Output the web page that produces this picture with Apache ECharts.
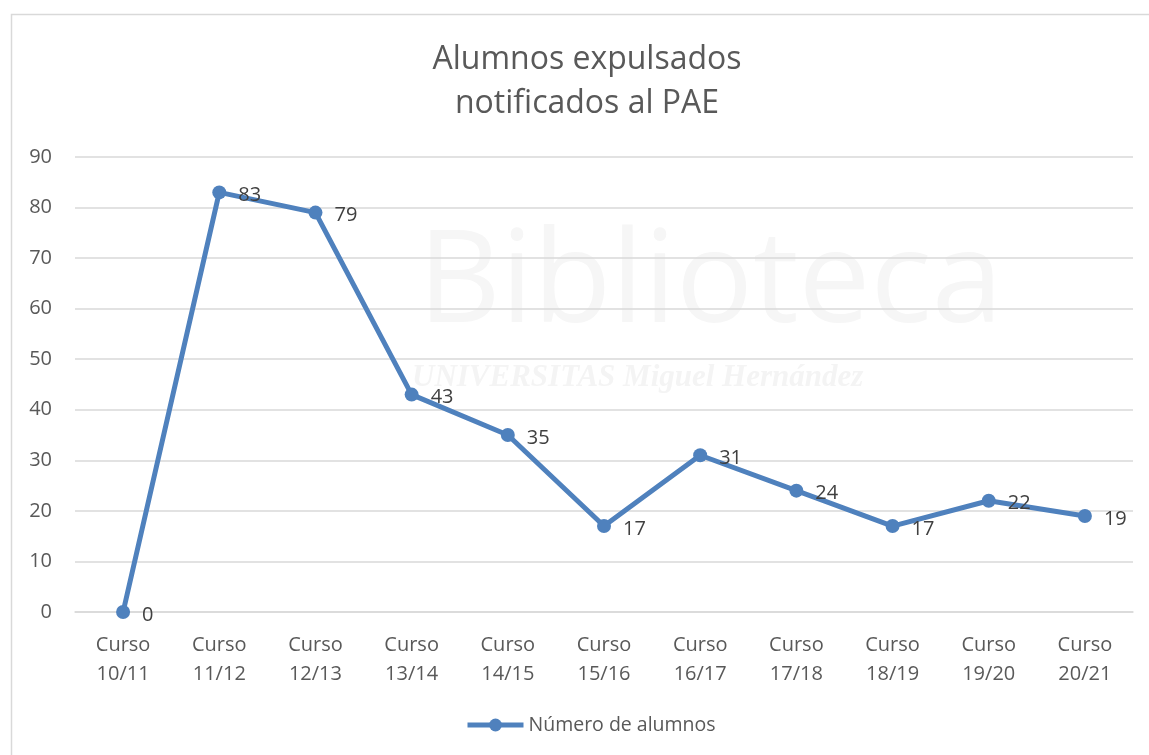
<!DOCTYPE html>
<html><head><meta charset="utf-8">
<script src="https://cdn.jsdelivr.net/npm/echarts@6/dist/echarts.min.js"></script>
<style>html,body{margin:0;padding:0;background:#fff}#c{width:1149px;height:755px}</style>
</head><body><div id="c"></div>
<script>
const categories = ['Curso\n10/11','Curso\n11/12','Curso\n12/13','Curso\n13/14','Curso\n14/15','Curso\n15/16','Curso\n16/17','Curso\n17/18','Curso\n18/19','Curso\n19/20','Curso\n20/21'];
const alumnos = [0, 83, 79, 43, 35, 17, 31, 24, 17, 22, 19];
const seriesName = 'Número de alumnos';
const titleText = 'Alumnos expulsados\nnotificados al PAE';

const font = '"Open Sans", "Noto Sans", sans-serif';
const chart = echarts.init(document.getElementById('c'));
chart.setOption({
  animation: false,
  backgroundColor: '#fff',
  graphic: [
    {type:'rect', shape:{x:11.5,y:14.5,width:1200,height:800}, style:{fill:'none', stroke:'#d9d9d9', lineWidth:1.5}, z:-10},
    {type:'text', left:418, top:222, style:{text:'Biblioteca', font:'128px "Open Sans", sans-serif', fill:'#f6f6f6'}, z:-5},
    {type:'text', left:412, top:362, style:{text:'UNIVERSITAS Miguel Hernández', font:'italic bold 31px "Liberation Serif", serif', fill:'#f4f4f4'}, z:-5},
    {type:'text', x:587, y:38, style:{text:titleText, textAlign:'center', textVerticalAlign:'top', font:'32px "Open Sans", sans-serif', lineHeight:44, fill:'#595959'}}
  ],
  legend: {
    bottom: 15, left: 460, itemWidth: 56, itemHeight: 16, itemGap: 8,
    lineStyle: {width: 5},
    textStyle: {fontFamily: font, fontSize: 19.5, color: '#595959'},
    data: [seriesName]
  },
  grid: {left: 75, right: 16, top: 157, bottom: 143},
  xAxis: {
    type: 'category', data: categories, boundaryGap: true,
    axisLine: {show: true, lineStyle: {color: '#d9d9d9', width: 1.5}},
    axisTick: {show: false},
    axisLabel: {fontFamily: font, fontSize: 20, color: '#595959', lineHeight: 29, margin: 19, interval: 0}
  },
  yAxis: {
    type: 'value', min: 0, max: 90, interval: 10,
    axisLine: {show: false}, axisTick: {show: false},
    splitLine: {lineStyle: {color: '#d9d9d9', width: 1.5}},
    axisLabel: {fontFamily: font, fontSize: 20, color: '#595959', margin: 23}
  },
  series: [{
    name: seriesName, type: 'line', data: alumnos,
    symbol: 'circle', symbolSize: 14,
    lineStyle: {color: '#4f81bd', width: 5},
    itemStyle: {color: '#4f81bd'},
    label: {show: true, position: 'right', distance: 12, offset: [0, 3], fontFamily: font, fontSize: 20, color: '#404040'}
  }]
});
</script></body></html>
